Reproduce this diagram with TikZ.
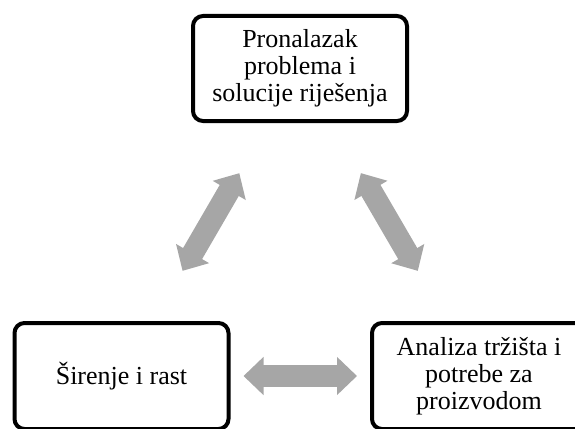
\documentclass[tikz,border=0pt]{standalone}
\usepackage{fontspec}
\setmainfont{Liberation Serif}
\usetikzlibrary{arrows.meta}
\definecolor{arrowgray}{RGB}{166,166,166}
\begin{document}
\begin{tikzpicture}[x=1pt,y=-1pt,
 stage/.style={draw,line width=4pt,rounded corners=10pt,minimum width=214pt,minimum height=105pt,
  inner sep=0pt,align=center,font=\fontsize{26}{27}\selectfont},
 link/.style={arrowgray,line width=22pt,{Triangle[width=37pt,length=20pt]}-{Triangle[width=37pt,length=20pt]}}]
 \useasboundingbox (0,0) rectangle (575,428);
 \clip (0,0) rectangle (575,428);
 \node[stage] (problem) at (300,68.5) {Pronalazak\\problema i\\solucije riješenja};
 \node[stage,minimum height=106pt] (growth) at (121.5,376) {Širenje i rast};
 \node[stage,minimum height=106pt] (market) at (479,376) {Analiza tržišta i\\potrebe za\\proizvodom};
 \draw[link,shorten <=58pt,shorten >=58pt] (problem) -- (growth);
 \draw[link,shorten <=58pt,shorten >=58pt] (problem) -- (market);
 \draw[link,shorten <=13pt,shorten >=13pt] (growth) -- (market);
\end{tikzpicture}
\end{document}
